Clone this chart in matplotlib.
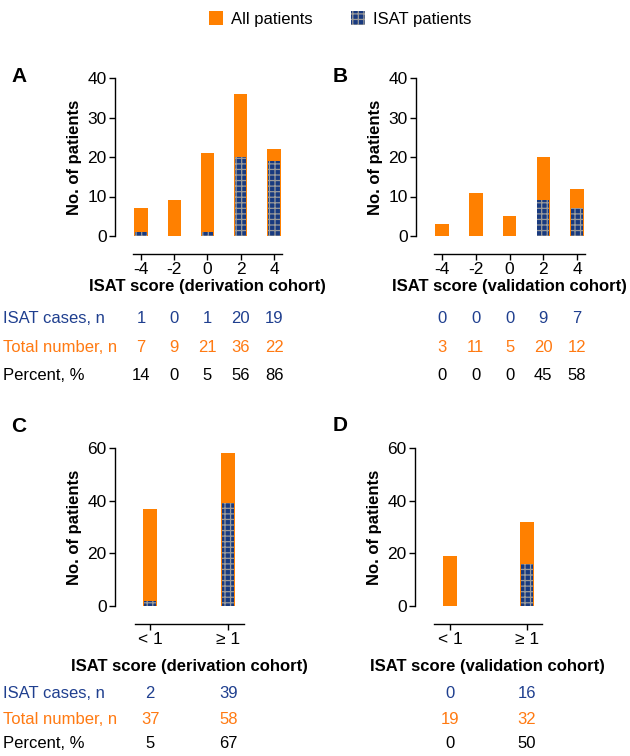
import matplotlib.pyplot as plt
import matplotlib.transforms as mtransforms
from matplotlib.patches import Patch

plt.rcParams['font.family'] = ['Liberation Sans', 'DejaVu Sans']
plt.rcParams['hatch.linewidth'] = 0.9

W, H = 630, 756

orange = '#FF8000'
navy = '#183A80'
hatch_grey = '#9A9A9A'
blue_txt = '#1F3F8F'
orange_txt = '#FF7A12'

# A / B : ISAT score
scores = [-4, -2, 0, 2, 4]
score_labels = ['-4', '-2', '0', '2', '4']
deriv_total = [7, 9, 21, 36, 22]
deriv_isat = [1, 0, 1, 20, 19]
deriv_pct = [14, 0, 5, 56, 86]
valid_total = [3, 11, 5, 20, 12]
valid_isat = [0, 0, 0, 9, 7]
valid_pct = [0, 0, 0, 45, 58]

# C / D : score < 1 vs >= 1
groups = ['< 1', '≥ 1']
deriv_total2 = [37, 58]
deriv_isat2 = [2, 39]
deriv_pct2 = [5, 67]
valid_total2 = [19, 32]
valid_isat2 = [0, 16]
valid_pct2 = [0, 50]

row_names = ['ISAT cases, n', 'Total number, n', 'Percent, %']
row_colors = [blue_txt, orange_txt, 'black']

fig = plt.figure(figsize=(W / 100, H / 100), dpi=100)


def panel(px, x, ticklabels, total, isat, pct, xlim, bounds, ymax, yticks,
          width, xlabel, letter, letter_xy, xlabel_y, rows_y, row_labels):
    l, t, r, b = px
    ax = fig.add_axes([l / W, 1 - b / H, (r - l) / W, (b - t) / H])
    ax.bar(x, total, width=width, color=orange, linewidth=0, zorder=2)
    ax.bar(x, isat, width=width * 0.86, color=navy, edgecolor=hatch_grey,
           linewidth=0, hatch='+++', zorder=3)
    ax.set_xlim(*xlim)
    ax.set_ylim(0, ymax)
    ax.set_yticks(yticks)
    ax.set_xticks(x)
    ax.set_xticklabels(ticklabels)
    for s in ['top', 'right']:
        ax.spines[s].set_visible(False)
    ax.spines['bottom'].set_position(('outward', 13))
    ax.spines['bottom'].set_bounds(*bounds)
    for s in ['left', 'bottom']:
        ax.spines[s].set_linewidth(1.0)
    ax.tick_params(labelsize=12.5, length=4, width=1.0, pad=2)
    ax.set_ylabel('No. of patients', fontsize=12, fontweight='bold')
    ax.yaxis.set_label_coords(-33 / (r - l), 0.5)

    tr = mtransforms.blended_transform_factory(ax.transData, fig.transFigure)
    fig.text(letter_xy[0] / W, 1 - letter_xy[1] / H, letter, fontsize=15,
             fontweight='bold', ha='center', va='center')
    ax.text(sum(bounds) / 2, 1 - xlabel_y / H, xlabel, transform=tr,
            fontsize=12, fontweight='bold', ha='center', va='center')
    for vals, yy, c in zip([isat, total, pct], rows_y, row_colors):
        for xi, v in zip(x, vals):
            ax.text(xi, 1 - yy / H, str(v), transform=tr, fontsize=12,
                    color=c, ha='center', va='center')
    if row_labels:
        for name, yy, c in zip(row_names, rows_y, row_colors):
            fig.text(3 / W, 1 - yy / H, name, fontsize=12, color=c,
                     ha='left', va='center')
    return ax


panel((115, 78, 284, 236), scores, score_labels, deriv_total, deriv_isat,
      deriv_pct, (-5.56, 4.6), (-4.5, 4.5), 40, [0, 10, 20, 30, 40], 0.8,
      'ISAT score (derivation cohort)', 'A', (19, 76), 286,
      [318, 347, 376], True)
panel((416, 78, 587, 236), scores, score_labels, valid_total, valid_isat,
      valid_pct, (-5.54, 4.59), (-4.5, 4.5), 40, [0, 10, 20, 30, 40], 0.8,
      'ISAT score (validation cohort)', 'B', (340, 76), 286,
      [318, 347, 376], False)
panel((115, 448, 250, 606), [0, 1], groups, deriv_total2, deriv_isat2,
      deriv_pct2, (-0.45, 1.28), (-0.2, 1.2), 60, [0, 20, 40, 60], 0.18,
      'ISAT score (derivation cohort)', 'C', (19, 426), 667,
      [694, 719, 743], True)
panel((415, 448, 550, 606), [0, 1], groups, valid_total2, valid_isat2,
      valid_pct2, (-0.455, 1.30), (-0.21, 1.19), 60, [0, 20, 40, 60], 0.18,
      'ISAT score (validation cohort)', 'D', (340, 425), 667,
      [694, 719, 743], False)

handles = [Patch(facecolor=orange, linewidth=0, label='All patients'),
           Patch(facecolor=navy, edgecolor=hatch_grey, linewidth=0,
                 hatch='+++', label='ISAT patients')]
fig.legend(handles=handles, loc='upper center', bbox_to_anchor=(0.54, 1.005),
           ncol=2, frameon=False, fontsize=12, handlelength=0.85,
           handleheight=0.85, handletextpad=0.5, columnspacing=2.3)

fig.savefig('out.png', dpi=100)
